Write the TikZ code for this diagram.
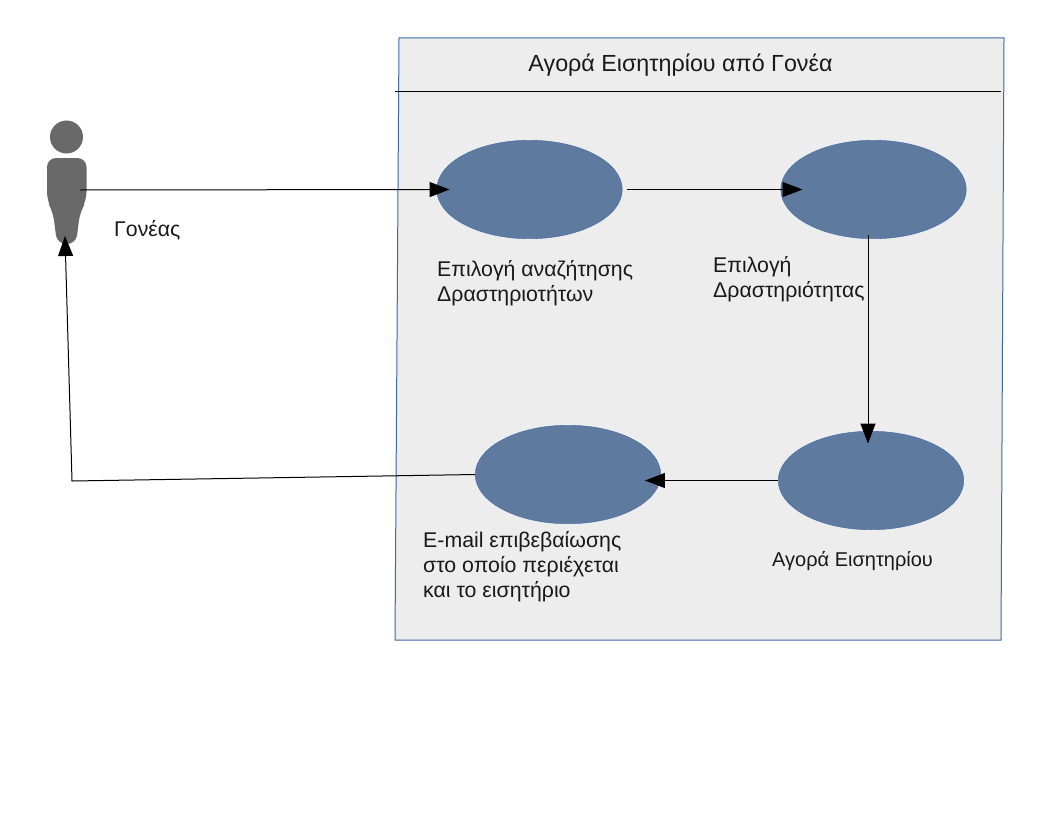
\documentclass[tikz,border=0pt]{standalone}
\usepackage{fontspec}
\setmainfont{Liberation Sans}
\usepackage{xcolor}
\usetikzlibrary{arrows.meta}
\usetikzlibrary{shapes.geometric}
\definecolor{panelgray}{HTML}{EDEDED}
\definecolor{panelblue}{HTML}{3F68A5}
\definecolor{usecaseblue}{HTML}{5E7B9F}
\definecolor{actorgray}{HTML}{696969}
\tikzset{
    usecase/.style={ellipse, draw=panelblue, fill=usecaseblue, minimum width=185.5pt, minimum height=98.5pt, inner sep=0pt},
    flow/.style={line width=1pt, -{Triangle[length=20pt,width=15pt]}},
    caption/.style={align=left, anchor=north west, inner sep=0pt, font=\fontsize{21.3}{25}\selectfont, text=black!90}
}

\begin{document}
\begin{tikzpicture}[x=1pt, y=-1pt]

    \useasboundingbox (0,0) rectangle (1056,816);

    % Draw the system panel with its title and rule
    \draw[panelblue, fill=panelgray, line width=1pt] (399,38) -- (1004,38) -- (1001,640) -- (395,640) -- cycle;
    \draw[line width=1pt] (395,91) -- (1001,91);
    \node[caption, anchor=center, font=\fontsize{23.3}{26}\selectfont] (title) at (680.5,65) {Αγορά Εισητηρίου από Γονέα};

    % Draw the parent figure
    \fill[actorgray] (66.5,137) circle (16.5);
    \fill[actorgray, rounded corners=9pt] (47,158) -- (86.5,158) -- (86.5,201) -- (80,212) -- (76,244) -- (57,244) -- (53,212) -- (47,201) -- cycle;
    \coordinate (parentbody) at (80,190);
    \coordinate (parentfoot) at (65,236);
    \node[caption] (parent) at (114,220) {Γονέας};

    % Draw the four use cases
    \node[usecase] (search) at (529.5,189.5) {};
    \node[usecase] (pick) at (873.5,189.5) {};
    \node[usecase] (buy) at (871,480.5) {};
    \node[usecase] (mail) at (568,474.5) {};

    % Captions below the use cases
    \node[caption] (searchtext) at (437,260.5) {Επιλογή αναζήτησης\\Δραστηριοτήτων};
    \node[caption] (picktext) at (713,256) {Επιλογή\\Δραστηριότητας};
    \node[caption, font=\fontsize{20}{25}\selectfont] (buytext) at (772,551) {Αγορά Εισητηρίου};
    \node[caption] (mailtext) at (423,531) {E-mail επιβεβαίωσης\\στο οποίο περιέχεται\\και το εισητήριο};

    % Connect everything
    \draw[flow] (parentbody) -- ([xshift=13pt]search.west);
    \draw[flow] ([xshift=5pt]search.east) -- ([xshift=22pt]pick.west);
    \draw[flow] ([xshift=-5.5pt,yshift=4pt]pick.south) -- ([xshift=-3pt,yshift=-12.5pt]buy.north);
    \draw[flow] (buy.west) -- ([xshift=-16pt,yshift=-6pt]mail.east);
    \coordinate (corner) at (72,481);
    \draw[flow] (mail.west) -- (corner) -- (parentfoot);

\end{tikzpicture}
\end{document}
